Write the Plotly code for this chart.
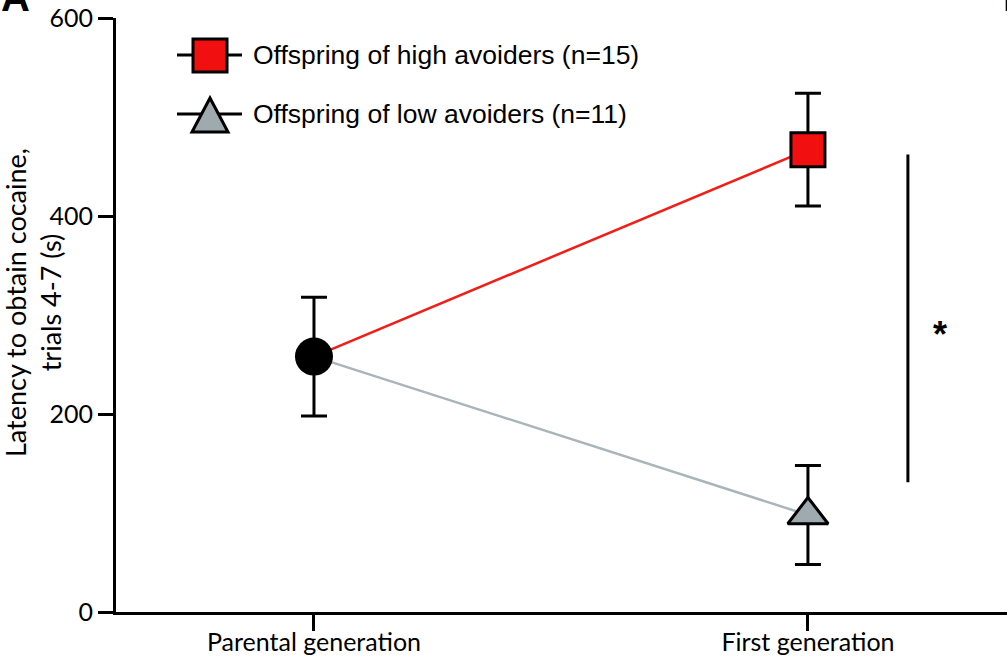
import plotly.graph_objects as go

categories = ["Parental generation", "First generation"]
parental_mean = 258
parental_err = 60
high_values = [258, 467]
high_err = 57
low_values = [258, 98]
low_err = 50
legend_labels = ["Offspring of high avoiders (n=15)", "Offspring of low avoiders (n=11)"]
y_ticks = [0, 200, 400, 600]

W, H = 1007, 656
ML, MR, MT, MB = 116, 0, 18, 44
PW, PH = W - ML - MR, H - MT - MB


def px(x):
    return (x - ML) / PW


def py(y):
    return (H - MB - y) / PH


RED = "#f41c16"
RED_FILL = "#f20f0f"
GRAY = "#a9b5b9"
GRAY_FILL = "#9eaaad"
TICKFONT = dict(family="Lato", size=25, color="black")

fig = go.Figure()
fig.add_trace(go.Scatter(x=categories, y=high_values, mode="lines",
                         line=dict(color=RED, width=2.5), showlegend=False, hoverinfo="skip"))
fig.add_trace(go.Scatter(x=categories, y=low_values, mode="lines",
                         line=dict(color=GRAY, width=2.5), showlegend=False, hoverinfo="skip"))
fig.add_trace(go.Scatter(x=[categories[0]], y=[parental_mean], mode="markers",
                         marker=dict(symbol="circle", size=38, color="black"),
                         error_y=dict(type="constant", value=parental_err, color="black", thickness=3, width=13),
                         showlegend=False))
fig.add_trace(go.Scatter(x=[categories[1]], y=[high_values[1]], mode="markers",
                         marker=dict(symbol="square", size=34, color=RED_FILL, line=dict(color="black", width=3)),
                         error_y=dict(type="constant", value=high_err, color="black", thickness=3, width=13),
                         name=legend_labels[0], showlegend=False))
fig.add_trace(go.Scatter(x=[categories[1]], y=[low_values[1]], mode="markers",
                         marker=dict(symbol="triangle-up", size=35, color=GRAY_FILL, line=dict(color="black", width=3)),
                         error_y=dict(type="constant", value=low_err, color="black", thickness=3, width=13),
                         name=legend_labels[1], showlegend=False))

shapes = []
# significance bar
shapes.append(dict(type="line", xref="x", yref="y", x0=1.2024, x1=1.2024, y0=131, y1=462,
                   line=dict(color="black", width=3)))
# custom legend
for yc in (55, 114):
    shapes.append(dict(type="line", xref="paper", yref="paper", x0=px(177), x1=px(242), y0=py(yc), y1=py(yc),
                       line=dict(color="black", width=3)))
shapes.append(dict(type="rect", xref="paper", yref="paper", x0=px(193), x1=px(227), y0=py(39), y1=py(72),
                   fillcolor=RED_FILL, line=dict(color="black", width=3)))
tri = f"M {px(210)},{py(98)} L {px(192)},{py(132)} L {px(228)},{py(132)} Z"
shapes.append(dict(type="path", xref="paper", yref="paper", path=tri,
                   fillcolor=GRAY_FILL, line=dict(color="black", width=3)))

annotations = [
    dict(text=legend_labels[0], xref="paper", yref="paper", x=px(251), y=py(55), xanchor="left", yanchor="middle",
         showarrow=False, font=dict(family="Liberation Sans", size=26.5, color="black")),
    dict(text=legend_labels[1], xref="paper", yref="paper", x=px(251), y=py(114), xanchor="left", yanchor="middle",
         showarrow=False, font=dict(family="Liberation Sans", size=26.5, color="black")),
    dict(text="<b>*</b>", xref="x", yref="y", x=1.267, y=280, showarrow=False,
         font=dict(family="Liberation Sans", size=36, color="black")),
    dict(text="Latency to obtain cocaine,<br>trials 4-7 (s)", xref="paper", yref="paper",
         x=px(33), y=py(303), textangle=-90, showarrow=False, xanchor="center", yanchor="middle",
         font=dict(family="Lato", size=27, color="black")),
    dict(text="<b>A</b>", xref="paper", yref="paper", x=px(15), y=py(21), xanchor="center", yanchor="bottom",
         showarrow=False, font=dict(family="Liberation Sans", size=40, color="black")),
    dict(text="<b>B</b>", xref="paper", yref="paper", x=px(1017), y=py(21), xanchor="center", yanchor="bottom",
         showarrow=False, font=dict(family="Liberation Sans", size=40, color="black")),
]

fig.update_layout(
    template="none",
    width=W, height=H,
    margin=dict(l=ML, r=MR, t=MT, b=MB, pad=0),
    paper_bgcolor="white", plot_bgcolor="white",
    showlegend=False,
    shapes=shapes, annotations=annotations,
    xaxis=dict(type="category", range=[-0.4008, 1.403], showgrid=False, zeroline=False, automargin=False,
               showline=True, linecolor="black", linewidth=3,
               ticks="outside", ticklen=16, tickwidth=3, tickcolor="black",
               ticklabelstandoff=-10, tickfont=TICKFONT),
    yaxis=dict(range=[0, 600], tickvals=y_ticks, showgrid=False, zeroline=False, automargin=False,
               showline=True, linecolor="black", linewidth=3,
               ticks="outside", ticklen=15, tickwidth=3, tickcolor="black",
               tickfont=TICKFONT),
)

fig.write_html("out.html", config={"displayModeBar": False},
               post_script="document.body.style.margin='0px';document.body.style.padding='0px';"
                           "document.documentElement.style.overflow='hidden';")
